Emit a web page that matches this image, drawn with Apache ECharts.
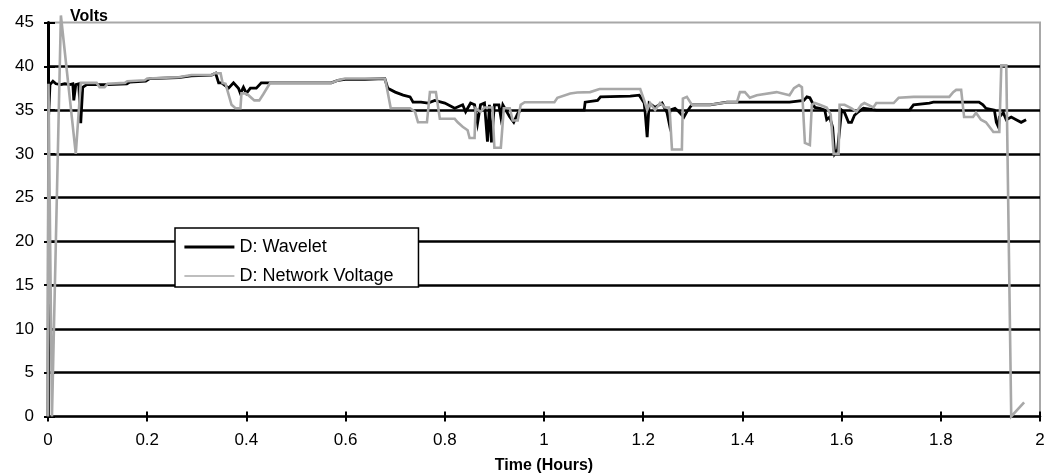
<!DOCTYPE html>
<html>
<head>
<meta charset="utf-8">
<script src="https://cdn.jsdelivr.net/npm/echarts@6/dist/echarts.min.js"></script>
<style>
  html, body { margin: 0; padding: 0; background: #fff; }
  #chart { width: 1046px; height: 474px; }
</style>
</head>
<body>
<div id="chart"></div>
<script>
// Axis tick values
const timeTicks = [0, 0.2, 0.4, 0.6, 0.8, 1, 1.2, 1.4, 1.6, 1.8, 2];
const voltTicks = [0, 5, 10, 15, 20, 25, 30, 35, 40, 45];

const seriesNames = ['D: Wavelet', 'D: Network Voltage'];

// [time (hours), volts]
const wavelet = [
  [0, 0], [0.001, 34.0], [0.004, 37.9], [0.010, 38.3], [0.016, 38.0], [0.026, 37.9],
  [0.034, 38.0], [0.044, 37.9], [0.050, 38.0], [0.052, 36.1], [0.056, 37.9], [0.062, 38.0],
  [0.066, 33.5], [0.070, 37.6], [0.078, 37.9], [0.120, 37.9], [0.159, 38.0], [0.165, 38.2],
  [0.197, 38.3], [0.205, 38.6], [0.263, 38.7], [0.289, 38.9], [0.330, 39.0], [0.338, 39.2],
  [0.344, 38.1], [0.350, 38.1], [0.364, 37.5], [0.374, 38.1], [0.384, 37.5], [0.388, 36.9],
  [0.394, 37.6], [0.400, 36.9], [0.408, 37.5], [0.420, 37.5], [0.430, 38.1], [0.571, 38.1],
  [0.585, 38.4], [0.599, 38.5], [0.639, 38.5], [0.679, 38.6], [0.685, 37.5], [0.700, 37.05],
  [0.716, 36.7], [0.730, 36.5], [0.736, 35.9], [0.752, 35.9], [0.766, 35.8], [0.780, 36.1],
  [0.800, 35.8], [0.820, 35.2], [0.836, 35.6], [0.842, 34.8], [0.852, 35.8], [0.860, 35.6],
  [0.866, 33.5], [0.872, 35.6], [0.880, 35.8], [0.886, 31.4], [0.890, 35.6], [0.894, 31.3],
  [0.900, 35.6], [0.909, 35.6], [0.913, 34.2], [0.917, 35.6], [0.931, 34.2], [0.939, 33.6],
  [0.947, 34.6], [0.953, 35.0], [1.081, 35.0], [1.083, 35.9], [1.108, 36.1], [1.114, 36.5],
  [1.174, 36.6], [1.192, 36.7], [1.202, 35.8], [1.204, 34.7], [1.208, 31.9], [1.212, 35.8],
  [1.224, 35.3], [1.238, 35.8], [1.248, 34.7], [1.252, 33.6], [1.254, 35.0], [1.264, 35.2],
  [1.272, 34.8], [1.282, 34.2], [1.288, 34.8], [1.298, 35.6], [1.335, 35.6], [1.369, 35.9],
  [1.495, 35.9], [1.499, 36.1], [1.524, 36.1], [1.530, 36.5], [1.536, 36.4], [1.546, 35.3],
  [1.556, 35.2], [1.566, 35.0], [1.570, 33.9], [1.576, 34.2], [1.582, 33.0], [1.586, 30.0],
  [1.592, 30.5], [1.600, 35.0], [1.606, 34.7], [1.614, 33.6], [1.620, 33.6], [1.626, 34.4],
  [1.634, 34.8], [1.644, 35.2], [1.670, 35.0], [1.737, 35.0], [1.745, 35.6], [1.777, 35.8],
  [1.785, 35.9], [1.877, 35.9], [1.885, 35.6], [1.891, 35.2], [1.908, 35.0], [1.912, 33.6],
  [1.916, 33.1], [1.918, 34.2], [1.926, 34.7], [1.932, 33.9], [1.942, 34.2], [1.952, 33.9],
  [1.962, 33.6], [1.972, 33.9]
];

// [time (hours), volts]
const networkVoltage = [
  [0, 0], [0.001, 38.0], [0.008, 0], [0.026, 45.8], [0.056, 30.0], [0.066, 38.1],
  [0.098, 38.1], [0.104, 37.6], [0.114, 37.6], [0.120, 38.0], [0.155, 38.1], [0.160, 38.3],
  [0.195, 38.4], [0.200, 38.6], [0.263, 38.75], [0.289, 39.0], [0.330, 39.0], [0.336, 39.2],
  [0.348, 39.2], [0.352, 38.1], [0.358, 38.0], [0.370, 35.6], [0.378, 35.2], [0.388, 35.2],
  [0.390, 36.9], [0.398, 36.9], [0.404, 36.7], [0.416, 36.1], [0.426, 36.1], [0.434, 36.8],
  [0.448, 38.1], [0.571, 38.1], [0.585, 38.4], [0.599, 38.6], [0.679, 38.6], [0.681, 38.2],
  [0.691, 35.2], [0.730, 35.2], [0.740, 34.8], [0.746, 33.6], [0.764, 33.6], [0.770, 37.05],
  [0.782, 37.05], [0.790, 34.0], [0.820, 34.0], [0.826, 33.6], [0.836, 33.1], [0.846, 32.7],
  [0.850, 31.8], [0.860, 31.8], [0.862, 35.2], [0.872, 34.8], [0.880, 35.3], [0.896, 35.3],
  [0.900, 30.7], [0.913, 30.7], [0.919, 35.2], [0.931, 35.2], [0.937, 33.8], [0.947, 33.8],
  [0.953, 35.6], [0.961, 35.9], [1.021, 35.9], [1.027, 36.4], [1.053, 36.9], [1.067, 37.0],
  [1.093, 37.05], [1.112, 37.4], [1.194, 37.4], [1.202, 36.1], [1.208, 35.0], [1.214, 35.8],
  [1.224, 35.0], [1.234, 35.8], [1.244, 35.3], [1.252, 35.3], [1.254, 34.4], [1.258, 30.5],
  [1.278, 30.5], [1.280, 36.3], [1.288, 36.5], [1.298, 35.6], [1.335, 35.6], [1.369, 35.9],
  [1.389, 35.9], [1.395, 37.05], [1.405, 37.05], [1.415, 36.4], [1.429, 36.7], [1.469, 37.05],
  [1.495, 36.7], [1.504, 37.5], [1.514, 37.85], [1.520, 37.6], [1.526, 31.25], [1.536, 31.0],
  [1.540, 35.6], [1.546, 35.8], [1.556, 35.6], [1.570, 35.3], [1.578, 34.5], [1.584, 30.0],
  [1.594, 30.0], [1.596, 35.6], [1.606, 35.6], [1.620, 35.2], [1.630, 34.8], [1.640, 35.6],
  [1.646, 35.8], [1.664, 35.3], [1.670, 35.8], [1.705, 35.8], [1.715, 36.4], [1.745, 36.5],
  [1.817, 36.5], [1.825, 37.05], [1.831, 37.3], [1.841, 37.3], [1.847, 34.2], [1.865, 34.2],
  [1.871, 34.7], [1.881, 33.9], [1.891, 33.6], [1.906, 32.5], [1.918, 32.5], [1.922, 40.1],
  [1.932, 40.1], [1.942, 0], [1.968, 1.6]
];

const FONT = '"Liberation Sans", Arial, sans-serif';

const chart = echarts.init(document.getElementById('chart'), null, { renderer: 'canvas' });

const xBase = {
  type: 'value',
  min: timeTicks[0],
  max: timeTicks[timeTicks.length - 1],
  interval: timeTicks[1] - timeTicks[0],
  splitLine: { show: false }
};
const yBase = {
  type: 'value',
  min: voltTicks[0],
  max: voltTicks[voltTicks.length - 1],
  interval: voltTicks[1] - voltTicks[0]
};

chart.setOption({
  animation: false,
  backgroundColor: '#ffffff',
  textStyle: { fontFamily: FONT },
  grid: {
    left: 48, right: 6, top: 22.5, bottom: 57.5,
    outerBoundsMode: 'none',
    containLabel: false,
    show: true,
    borderColor: '#a8a8a8',
    borderWidth: 2
  },
  legend: {
    orient: 'vertical',
    left: 175,
    top: 228,
    padding: [10, 25, 2, 8],
    itemGap: 11,
    itemWidth: 50,
    itemHeight: 18,
    backgroundColor: '#ffffff',
    borderColor: '#000000',
    borderWidth: 1.5,
    selectedMode: false,
    itemStyle: { opacity: 0 },
    textStyle: { fontSize: 18, color: '#000', fontFamily: FONT },
    data: [
      { name: seriesNames[0], lineStyle: { width: 2.8 } },
      { name: seriesNames[1], lineStyle: { width: 1.6 } }
    ]
  },
  xAxis: [
    Object.assign({}, xBase, {
      position: 'bottom',
      name: 'Time (Hours)',
      nameLocation: 'middle',
      nameGap: 41,
      nameTextStyle: { fontSize: 16, fontWeight: 'bold', color: '#000', fontFamily: FONT },
      axisLine: { show: true, onZero: false, lineStyle: { color: '#000', width: 2.5 } },
      axisTick: { show: true, length: 5, lineStyle: { color: '#000', width: 2 } },
      axisLabel: { color: '#000', fontSize: 17, margin: 15, fontFamily: FONT }
    }),
    // inward half of the crossing tick marks
    Object.assign({}, xBase, {
      position: 'bottom',
      axisLine: { show: false },
      axisTick: { show: true, inside: true, length: 5, lineStyle: { color: '#000', width: 2 } },
      axisLabel: { show: false }
    })
  ],
  yAxis: [
    Object.assign({}, yBase, {
      position: 'left',
      name: 'Volts',
      nameLocation: 'end',
      nameGap: -2,
      nameTextStyle: { fontSize: 16, fontWeight: 'bold', color: '#000', align: 'left', padding: [0, 0, 0, 22], fontFamily: FONT },
      axisLine: { show: true, onZero: false, lineStyle: { color: '#000', width: 3 } },
      axisTick: { show: true, length: 4, lineStyle: { color: '#000', width: 2 } },
      axisLabel: { color: '#000', fontSize: 17, margin: 14, fontFamily: FONT },
      splitLine: { show: true, showMinLine: false, showMaxLine: false, lineStyle: { color: '#000', width: 2.5 } }
    }),
    Object.assign({}, yBase, {
      position: 'left',
      axisLine: { show: false },
      axisTick: { show: true, inside: true, length: 7, lineStyle: { color: '#000', width: 2 } },
      axisLabel: { show: false },
      splitLine: { show: false }
    })
  ],
  series: [
    {
      name: seriesNames[0],
      type: 'line',
      data: wavelet,
      symbol: 'none',
      clip: false,
      z: 3,
      lineStyle: { color: '#000000', width: 2.8, join: 'miter' },
      itemStyle: { color: '#000000' }
    },
    {
      name: seriesNames[1],
      type: 'line',
      data: networkVoltage,
      symbol: 'none',
      clip: false,
      z: 4,
      lineStyle: { color: '#a8a8a8', width: 2.6, join: 'miter' },
      itemStyle: { color: '#a8a8a8' }
    }
  ]
});
</script>
</body>
</html>
